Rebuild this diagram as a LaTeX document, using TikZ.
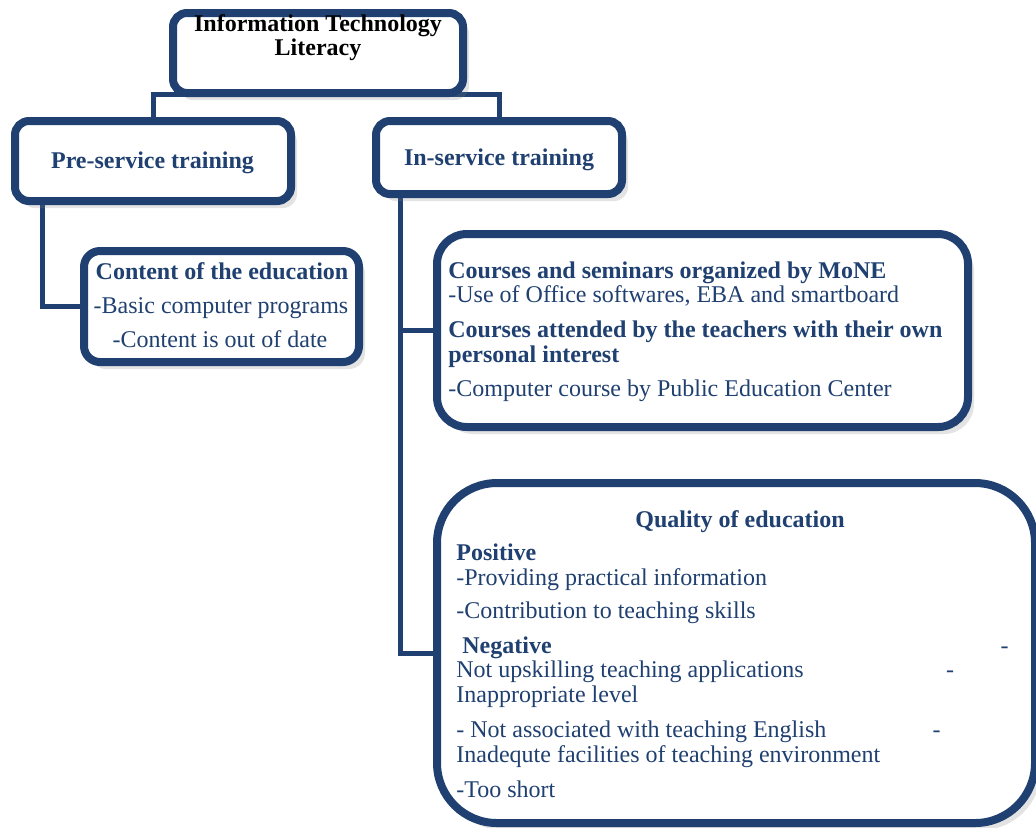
\documentclass[tikz,border=0pt]{standalone}
\usepackage{fontspec}
\setmainfont{Liberation Serif}
\usetikzlibrary{shadows,backgrounds}
\definecolor{navy}{RGB}{31,64,112}
\tikzset{
  box/.style={draw=navy, line width=4pt, fill=white, rounded corners=#1,
    drop shadow={shadow xshift=3pt, shadow yshift=-3.5pt, opacity=.22}},
  box/.default=7pt,
  link/.style={draw=navy, line width=2.5pt},
  txt/.style={inner sep=0pt, text=navy, font=\fontsize{12}{14}\selectfont},
  head/.style={txt, font=\fontsize{12}{14}\selectfont\bfseries},
}
\begin{document}
\begin{tikzpicture}[x=0.5pt,y=-0.5pt]
\useasboundingbox (0,0) rectangle (1036,827);

% boxes
\node[box, minimum width=145pt, minimum height=40pt] (top) at (318,53) {};
\node[box, minimum width=138pt, minimum height=40pt] (pre) at (153,161) {};
\node[box, minimum width=123pt, minimum height=36.5pt] (in) at (499,157.5) {};
\node[box=8pt, minimum width=137.5pt, minimum height=55.5pt] (content) at (221.5,306.5) {};
\node[box=15pt, minimum width=265.5pt, minimum height=96.5pt] (courses) at (702.5,330.5) {};
\node[box=30pt, minimum width=299pt, minimum height=170pt] (quality) at (736,653) {};

% connectors
\coordinate (bar) at (318,94.5);
\coordinate (preleg) at (42,201);
\coordinate (inleg) at (400,194);
\begin{scope}[on background layer]
  \fill[white] (0,0) rectangle (1036,827);
  \draw[link] (pre.north) |- (bar) -| (in.north);
  \draw[link] (preleg) |- (content.west);
  \draw[link] (inleg) |- (courses.west);
  \draw[link] (inleg) |- (quality.west);
\end{scope}

% texts
\node[head, text=black, anchor=base] (title1) at (318,31) {Information Technology};
\node[head, text=black, anchor=base] (title2) at (318,55) {Literacy};
\node[head, anchor=base] (pretxt) at (152.5,168) {Pre-service training};
\node[head, anchor=base] (intxt) at (499,165) {In-service training};

\node[head, anchor=base] (c1) at (222,279) {Content of the education};
\node[txt, anchor=base] (c2) at (221,313) {-Basic computer programs};
\node[txt, anchor=base] (c3) at (220,347) {-Content is out of date};

\node[head, anchor=base west] (m1) at (448,278) {Courses and seminars organized by MoNE};
\node[txt, anchor=base west] (m2) at (448,302) {-Use of Office softwares, EBA and smartboard};
\node[head, anchor=base west] (m3) at (448,337) {Courses attended by the teachers with their own};
\node[head, anchor=base west] (m4) at (448,362) {personal interest};
\node[txt, anchor=base west] (m5) at (448,396) {-Computer course by Public Education Center};

\node[head, anchor=base] (q0) at (740,527) {Quality of education};
\node[head, anchor=base west] (pos) at (456,560) {Positive};
\node[head, anchor=base west] (neg) at (462,653) {Negative};
\foreach \y/\t [count=\i] in {585/-Providing practical information,
    618/-Contribution to teaching skills,
    677/Not upskilling teaching applications,
    702/Inappropriate level,
    737/- Not associated with teaching English,
    762/Inadequte facilities of teaching environment,
    797/-Too short}
  \node[txt, anchor=base west] (q\i) at (456,\y) {\t};
\foreach \x/\y [count=\i] in {1004.5/653, 950/677, 936.5/737}
  \node[txt, anchor=base] (dash\i) at (\x,\y) {-};
\end{tikzpicture}
\end{document}
